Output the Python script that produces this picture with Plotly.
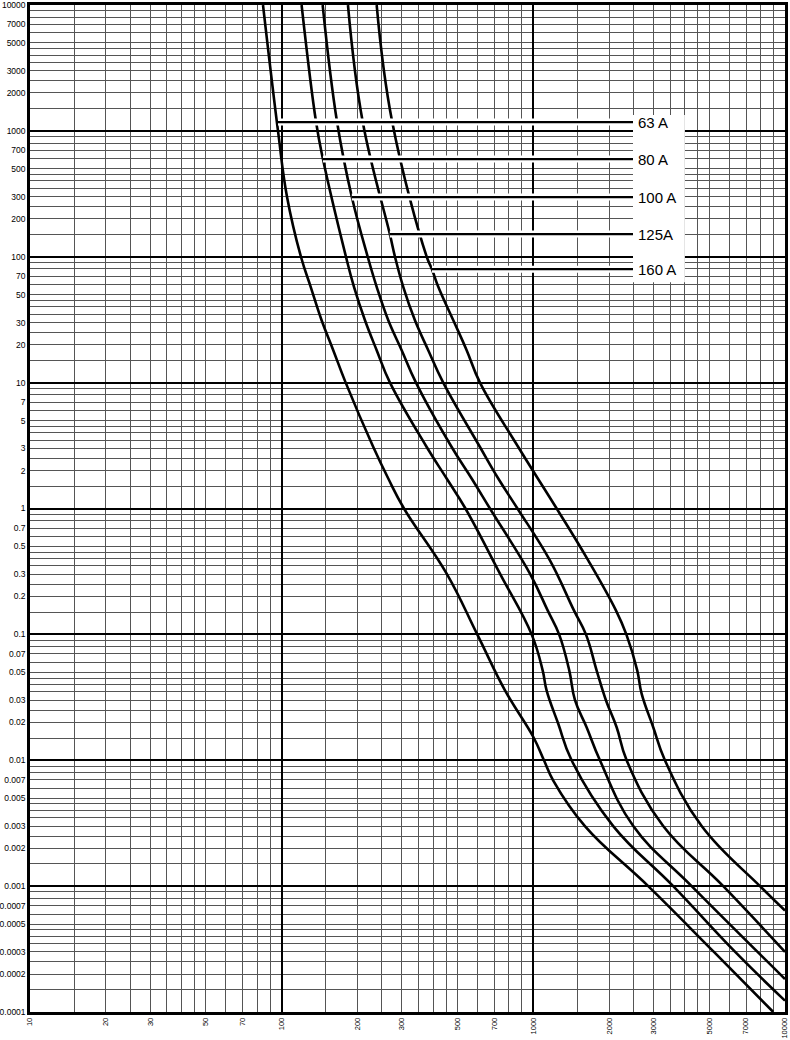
import math
import plotly.graph_objects as go

# ---- data (current in A, pre-arcing time in s) ----
I_63 = [84.3, 96.7, 105, 119.3, 130.4, 144.1, 160.3, 179.6, 231.2, 265.2, 306.2, 452.5, 598.6, 771.5, 1000, 1102, 1200, 1603, 2861, 5218, 8979]
t_63 = [10000, 1000, 300, 100, 57.7, 31.3, 18.1, 10, 3.08, 1.73, 1, 0.304, 0.1, 0.0359, 0.0153, 0.01, 0.0069, 0.003, 0.001, 0.0003, 0.0001]

I_80 = [120, 137, 145.9, 180.1, 193.8, 214.3, 238.5, 269.4, 376.9, 452.5, 537.4, 736.9, 984.5, 1089, 1129, 1256, 1419, 2077, 3595, 6339, 10000]
t_80 = [10000, 1175, 597, 100, 57.7, 31.3, 18.1, 10, 3.08, 1.73, 1, 0.304, 0.1, 0.0518, 0.0359, 0.0195, 0.01, 0.003, 0.001, 0.0003, 0.000123]

I_100 = [145.5, 166, 190, 219.7, 238.5, 265.2, 299.8, 341.7, 473.6, 568.7, 672.4, 969.4, 1140, 1266, 1389, 1464, 1628, 1839, 2495, 4256, 10000]
t_100 = [10000, 1175, 298, 100, 57.7, 31.3, 18.1, 10, 3.08, 1.73, 1, 0.304, 0.155, 0.1, 0.0518, 0.03, 0.0183, 0.01, 0.003, 0.001, 0.000183]

I_125 = [183.4, 210, 269, 282, 304.1, 338.5, 382.3, 438.5, 613.6, 725.5, 864.8, 1164, 1450, 1618, 1784, 1943, 2143, 2348, 3281, 5683, 10000]
t_125 = [10000, 1175, 151.5, 100, 57.7, 31.3, 18.1, 10, 3.08, 1.73, 1, 0.387, 0.155, 0.1, 0.0518, 0.03, 0.0183, 0.01, 0.003, 0.001, 0.0003]

I_160 = [238.5, 275, 377, 395.5, 419, 480.8, 543.3, 613.6, 871, 1238, 1652, 2129, 2342, 2587, 2693, 2995, 3333, 4664, 7950, 10000]
t_160 = [10000, 1175, 100, 79.7, 57.7, 31.3, 18.1, 10, 3.08, 1, 0.387, 0.155, 0.1, 0.0518, 0.0338, 0.0183, 0.01, 0.003, 0.001, 0.00064]

label_names = ["63 A", "80 A", "100 A", "125A", "160 A"]
leader_t = [1175, 597, 298, 151.5, 79.7]
leader_I_start = [96.7, 145.9, 190, 269, 395.5]
leader_I_end = 2489
label_box_I = [2489, 4000]
label_box_t = [62.8, 1337]

x_tick_vals = [10, 20, 30, 50, 70, 100, 200, 300, 500, 700, 1000, 2000, 3000, 5000, 7000, 10000]
x_tick_text = ["10", "20", "30", "50", "70", "100", "200", "300", "500", "700", "1000", "2000", "3000", "5000", "7000", "10000"]
y_tick_vals = [10000, 7000, 5000, 3000, 2000, 1000, 700, 500, 300, 200, 100, 70, 50, 30, 20, 10, 7, 5, 3, 2, 1,
               0.7, 0.5, 0.3, 0.2, 0.1, 0.07, 0.05, 0.03, 0.02, 0.01, 0.007, 0.005, 0.003, 0.002, 0.001,
               0.0007, 0.0005, 0.0003, 0.0002, 0.0001]
y_tick_text = ["10000", "7000", "5000", "3000", "2000", "1000", "700", "500", "300", "200", "100", "70", "50", "30",
               "20", "10", "7", "5", "3", "2", "1", "0.7", "0.5", "0.3", "0.2", "0.1", "0.07", "0.05", "0.03",
               "0.02", "0.01", "0.007", "0.005", "0.003", "0.002", "0.001", "0.0007", "0.0005", "0.0003",
               "0.0002", "0.0001"]
minor_mults = [1.5, 2, 2.5, 3, 3.5, 4, 4.5, 5, 6, 7, 8, 9]
x_decades = [10, 100, 1000, 10000]
y_decades = [0.0001, 0.001, 0.01, 0.1, 1, 10, 100, 1000, 10000]

x_minor = [d * m for d in x_decades[:-1] for m in minor_mults]
y_minor = [d * m for d in y_decades[:-1] for m in minor_mults]

curves = [(I_63, t_63), (I_80, t_80), (I_100, t_100), (I_125, t_125), (I_160, t_160)]

fig = go.Figure()

for I, t in curves:
    fig.add_trace(go.Scatter(x=I, y=t, mode="lines", xaxis="x2", yaxis="y2",
                             line=dict(color="black", width=2.6, shape="spline", smoothing=1.2),
                             hoverinfo="skip", showlegend=False))

# white halo under leader lines
for ts, xs in zip(leader_t, leader_I_start):
    fig.add_trace(go.Scatter(x=[xs, leader_I_end], y=[ts, ts], mode="lines", xaxis="x2", yaxis="y2",
                             line=dict(color="white", width=7), hoverinfo="skip", showlegend=False))
for ts, xs in zip(leader_t, leader_I_start):
    fig.add_trace(go.Scatter(x=[xs, leader_I_end], y=[ts, ts], mode="lines", xaxis="x2", yaxis="y2",
                             line=dict(color="black", width=2.2), hoverinfo="skip", showlegend=False))

for name, ts in zip(label_names, leader_t):
    fig.add_annotation(x=math.log10(leader_I_end), y=math.log10(ts), xref="x2", yref="y2",
                       text=name, showarrow=False, xanchor="left", yanchor="middle", xshift=3,
                       font=dict(family="Liberation Sans, Arial", size=15, color="black"))

fig.add_shape(type="rect", xref="x", yref="y", x0=label_box_I[0], x1=label_box_I[1],
              y0=label_box_t[0], y1=label_box_t[1], fillcolor="white", line=dict(width=0),
              layer="between")

tick_font = dict(family="Liberation Sans, Arial", color="black")

fig.update_layout(
    width=790, height=1040,
    margin=dict(l=30, r=5, t=5, b=28),
    paper_bgcolor="white", plot_bgcolor="white",
    xaxis=dict(type="log", range=[1, 4], tickvals=x_tick_vals, ticktext=x_tick_text, tickangle=-90,
               tickfont=dict(size=7.5, **tick_font), showgrid=False, zeroline=False, ticks="",
               automargin=False, ticklabeloverflow="allow",
               showline=True, mirror=True, linecolor="black", linewidth=2.5,
               minor=dict(tickvals=x_minor, showgrid=True, gridcolor="#555555", gridwidth=1, ticks="")),
    yaxis=dict(type="log", range=[-4, 4.0001], tickvals=y_tick_vals, ticktext=y_tick_text,
               tickfont=dict(size=8.5, **tick_font), showgrid=False, zeroline=False, ticks="",
               automargin=False, ticklabeloverflow="allow",
               showline=True, mirror=True, linecolor="black", linewidth=2.5,
               minor=dict(tickvals=y_minor, showgrid=True, gridcolor="#555555", gridwidth=1, ticks="")),
    xaxis2=dict(type="log", range=[1, 4], overlaying="x", anchor="y2", tickvals=x_decades,
                showticklabels=False, ticks="", showgrid=True, gridcolor="black", gridwidth=2.2,
                zeroline=False, showline=False, automargin=False),
    yaxis2=dict(type="log", range=[-4, 4.0001], overlaying="y", anchor="x2", tickvals=y_decades,
                showticklabels=False, ticks="", showgrid=True, gridcolor="black", gridwidth=2.2,
                zeroline=False, showline=False, automargin=False),
    showlegend=False,
)

fig.write_html("out.html", config={"displayModeBar": False},
               post_script="document.body.style.margin='0';document.body.style.overflow='hidden';")
